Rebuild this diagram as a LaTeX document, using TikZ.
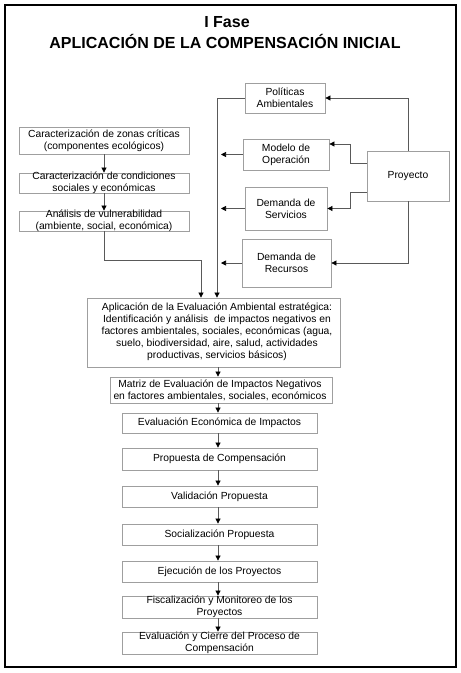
\documentclass[tikz,border=0pt]{standalone}
\usepackage{fontspec}
\setmainfont{Liberation Sans}
\usetikzlibrary{arrows.meta}
\tikzset{
  box/.style={draw=gray!75, line width=0.8pt, inner sep=0pt},
  txt/.style={align=center, inner sep=0pt, font=\fontsize{10.3}{12}\selectfont},
  conn/.style={draw=gray!70!black, line width=0.7pt},
  arr/.style={conn, -{Triangle[length=5pt,width=5pt,color=black]}},
  ttl/.style={font=\bfseries\fontsize{16}{19}\selectfont, inner sep=0pt}
}
\begin{document}
\begin{tikzpicture}[x=1pt,y=-1pt]
\useasboundingbox (0,0) rectangle (461,673);
\draw[line width=1.6pt] (5,5) rectangle (456,667);
\node[ttl] (t1) at (227,22) {I Fase};
\node[ttl] (t2) at (225,41) {APLICACIÓN DE LA COMPENSACIÓN INICIAL};
% right cluster
\node[box, minimum width=80, minimum height=30] (pol) at (285,98) {};
\node[txt] (polt) at (pol) {Políticas\\Ambientales};
\node[box, minimum width=86, minimum height=31] (mod) at (286,154.5) {};
\node[txt] (modt) at (mod) {Modelo de\\Operación};
\node[box, minimum width=82, minimum height=43] (serv) at (286,208.5) {};
\node[txt] (servt) at (serv) {Demanda de\\Servicios};
\node[box, minimum width=89, minimum height=48] (rec) at (286.5,263) {};
\node[txt] (rect) at (rec) {Demanda de\\Recursos};
\node[box, minimum width=82, minimum height=50] (proy) at (408,176) {};
\node[txt] (proyt) at (proy) {Proyecto};
% left column
\node[box, minimum width=170, minimum height=27] (c1) at (104,140.5) {};
\node[txt] (c1t) at (c1) {Caracterización de zonas críticas\\(componentes ecológicos)};
\node[box, minimum width=170, minimum height=20] (c2) at (104,183) {};
\node[txt] (c2t) at (104,182.5) {Caracterización de condiciones\\sociales y económicas};
\node[box, minimum width=170, minimum height=20] (c3) at (104,221) {};
\node[txt] (c3t) at (104,221) {Análisis de vulnerabilidad\\(ambiente, social, económica)};
% main column
\node[box, minimum width=253, minimum height=69] (apl) at (213.5,332.5) {};
\node[txt] (aplt) at (217,332) {Aplicación de la Evaluación Ambiental estratégica:\\Identificación y análisis\ \ de impactos negativos en\\factores ambientales, sociales, económicas (agua,\\suelo, biodiversidad, aire, salud, actividades\\productivas, servicios básicos)};
\node[box, minimum width=222, minimum height=26] (mat) at (221,390) {};
\node[txt] (matt) at (220,390) {Matriz de Evaluación de Impactos Negativos\\en factores ambientales, sociales, económicos};
\node[box, minimum width=195, minimum height=20] (ev) at (219.5,423) {};
\node[txt] (evt) at (ev) {Evaluación Económica de Impactos};
\node[box, minimum width=195, minimum height=22] (prop) at (219.5,459) {};
\node[txt] (propt) at (prop) {Propuesta de Compensación};
\node[box, minimum width=195, minimum height=21] (val) at (219.5,496.5) {};
\node[txt] (valt) at (val) {Validación Propuesta};
\node[box, minimum width=195, minimum height=21] (soc) at (219.5,534.5) {};
\node[txt] (soct) at (soc) {Socialización Propuesta};
\node[box, minimum width=195, minimum height=21] (eje) at (219.5,571.5) {};
\node[txt] (ejet) at (eje) {Ejecución de los Proyectos};
\node[box, minimum width=195, minimum height=22] (fis) at (219.5,607) {};
\node[txt] (fist) at (fis) {Fiscalización y Monitoreo de los\\Proyectos};
\node[box, minimum width=195, minimum height=22] (cie) at (219.5,643) {};
\node[txt] (ciet) at (cie) {Evaluación y Cierre del Proceso de\\Compensación};
% coordinates
\coordinate (fx) at (218,0);
\coordinate (vL) at (217,0);
\coordinate (vLa) at (221,0);
\coordinate (j1) at (201,260);
\coordinate (k1) at (350,163);
\coordinate (k1b) at (350,144);
\coordinate (k2) at (350,192);
% connectors
\draw[arr] (pol.west) -| (apl.north -| vL);
\draw[arr] (mod.west) -- (mod.west -| vLa);
\draw[arr] (serv.west) -- (serv.west -| vLa);
\draw[arr] (rec.west) -- (rec.west -| vLa);
\draw[arr] (proy.north) |- (pol.east);
\draw[arr] (proy.south) |- (rec.east);
\draw[arr] (proy.west |- k1) -- (k1) -- (k1b) -- (mod.east |- k1b);
\draw[arr] (proy.west |- k2) -- (k2) |- (serv.east);
\draw[arr] (c1.south) -- (c2.north);
\draw[arr] (c2.south) -- (c3.north);
\draw[arr] (c3.south) |- (j1) -- (apl.north -| j1);
\draw[arr] (apl.south -| fx) -- (mat.north -| fx);
\draw[arr] (mat.south -| fx) -- (ev.north -| fx);
\draw[arr] (ev.south -| fx) -- (prop.north -| fx);
\draw[arr] (prop.south -| fx) -- (val.north -| fx);
\draw[arr] (val.south -| fx) -- (soc.north -| fx);
\draw[arr] (soc.south -| fx) -- (eje.north -| fx);
\draw[arr] (eje.south -| fx) -- (fis.north -| fx);
\draw[arr] (fis.south -| fx) -- (cie.north -| fx);
\end{tikzpicture}
\end{document}
